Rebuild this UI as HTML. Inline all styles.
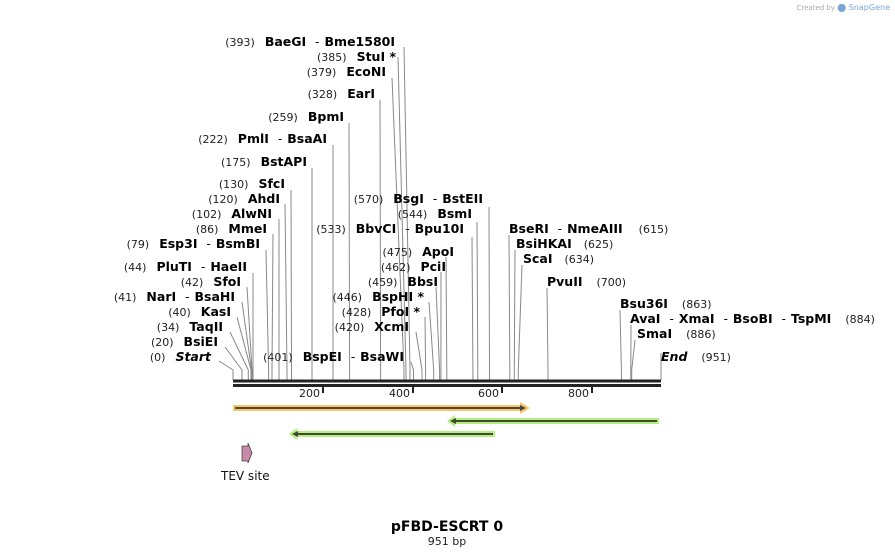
<!DOCTYPE html>
<html><head><meta charset="utf-8"><style>
html,body{margin:0;padding:0;background:#fff;}
svg{display:block;font-family:"DejaVu Sans","Liberation Sans",sans-serif;}
.n{font-size:11px;fill:#222;}
.b{font-size:12.5px;font-weight:bold;fill:#000;}
.d{font-size:12px;fill:#000;}
.l{stroke:#888;stroke-width:1;fill:none;}
</style></head><body>
<svg width="895" height="557" viewBox="0 0 895 557" xmlns="http://www.w3.org/2000/svg">
<text x="890" y="10" text-anchor="end" style="font-size:7px;fill:#aaa">Created by <tspan style="fill:#7aa6d6;font-size:8px">⬤ SnapGene</tspan></text>

<g class="l">
<path d="M404 47 L410 370 V380"/>
<path d="M398 57 L406 370 V380"/>
<path d="M392 78 L404 370 V380"/>
<path d="M380 100 L380.6 370 V380"/>
<path d="M349 123 L349.6 370 V380"/>
<path d="M333 145 L333 370 V380"/>
<path d="M312 168 L312 370 V380"/>
<path d="M291 190 L291.5 370 V380"/>
<path d="M285 204 L287 370 V380"/>
<path d="M279 219 L279 370 V380"/>
<path d="M273 234 L272 370 V380"/>
<path d="M266 250 L268.6 370 V380"/>
<path d="M253 273 L253 370 V380"/>
<path d="M247 287 L252 370 V380"/>
<path d="M242 302 L251.5 370 V380"/>
<path d="M237 317 L251 370 V380"/>
<path d="M230 332 L248.3 370 V380"/>
<path d="M225 347 L242 370 V380"/>
<path d="M219 361 L233 370 V380"/>
<path d="M411 362 L413.5 370 V380"/>
<path d="M489 207 L489.5 370 V380"/>
<path d="M477 222 L477.8 370 V380"/>
<path d="M472 237 L472.9 370 V380"/>
<path d="M446 257 L446.8 370 V380"/>
<path d="M441 272 L440.9 370 V380"/>
<path d="M436 287 L439.6 370 V380"/>
<path d="M429 302 L433.7 370 V380"/>
<path d="M425 317 L425.6 370 V380"/>
<path d="M416 332 L422 370 V380"/>
<path d="M509 235 L509.8 370 V380"/>
<path d="M515 250 L514.3 370 V380"/>
<path d="M522 265 L518.3 370 V380"/>
<path d="M547 288 L548 370 V380"/>
<path d="M620 310 L621.4 370 V380"/>
<path d="M631 325 L630.8 370 V380"/>
<path d="M635 340 L631.7 370 V380"/>
<path d="M661 353 L661 380"/>
</g>

<g text-anchor="end">
<text x="395" y="46"><tspan class="n">(393)</tspan><tspan class="b" dx="10">BaeGI</tspan><tspan class="d" dx="9">-</tspan><tspan class="b" dx="5">Bme1580I</tspan></text>
<text x="396" y="61"><tspan class="n">(385)</tspan><tspan class="b" dx="10">StuI *</tspan></text>
<text x="386" y="76"><tspan class="n">(379)</tspan><tspan class="b" dx="10">EcoNI</tspan></text>
<text x="375" y="98"><tspan class="n">(328)</tspan><tspan class="b" dx="10">EarI</tspan></text>
<text x="344" y="121"><tspan class="n">(259)</tspan><tspan class="b" dx="10">BpmI</tspan></text>
<text x="327" y="143"><tspan class="n">(222)</tspan><tspan class="b" dx="10">PmlI</tspan><tspan class="d" dx="9">-</tspan><tspan class="b" dx="5">BsaAI</tspan></text>
<text x="307" y="166"><tspan class="n">(175)</tspan><tspan class="b" dx="10">BstAPI</tspan></text>
<text x="285" y="188"><tspan class="n">(130)</tspan><tspan class="b" dx="10">SfcI</tspan></text>
<text x="280" y="203"><tspan class="n">(120)</tspan><tspan class="b" dx="10">AhdI</tspan></text>
<text x="272" y="218"><tspan class="n">(102)</tspan><tspan class="b" dx="10">AlwNI</tspan></text>
<text x="267" y="233"><tspan class="n">(86)</tspan><tspan class="b" dx="10">MmeI</tspan></text>
<text x="260" y="248"><tspan class="n">(79)</tspan><tspan class="b" dx="10">Esp3I</tspan><tspan class="d" dx="9">-</tspan><tspan class="b" dx="5">BsmBI</tspan></text>
<text x="247" y="271"><tspan class="n">(44)</tspan><tspan class="b" dx="10">PluTI</tspan><tspan class="d" dx="9">-</tspan><tspan class="b" dx="5">HaeII</tspan></text>
<text x="241" y="286"><tspan class="n">(42)</tspan><tspan class="b" dx="10">SfoI</tspan></text>
<text x="235" y="301"><tspan class="n">(41)</tspan><tspan class="b" dx="10">NarI</tspan><tspan class="d" dx="9">-</tspan><tspan class="b" dx="5">BsaHI</tspan></text>
<text x="231" y="316"><tspan class="n">(40)</tspan><tspan class="b" dx="10">KasI</tspan></text>
<text x="223" y="331"><tspan class="n">(34)</tspan><tspan class="b" dx="10">TaqII</tspan></text>
<text x="218" y="346"><tspan class="n">(20)</tspan><tspan class="b" dx="10">BsiEI</tspan></text>
<text x="211" y="361"><tspan class="n">(0)</tspan><tspan class="b" dx="10" font-style="italic">Start</tspan></text>
<text x="404" y="361"><tspan class="n">(401)</tspan><tspan class="b" dx="10">BspEI</tspan><tspan class="d" dx="9">-</tspan><tspan class="b" dx="5">BsaWI</tspan></text>
<text x="483" y="203"><tspan class="n">(570)</tspan><tspan class="b" dx="10">BsgI</tspan><tspan class="d" dx="9">-</tspan><tspan class="b" dx="5">BstEII</tspan></text>
<text x="472" y="218"><tspan class="n">(544)</tspan><tspan class="b" dx="10">BsmI</tspan></text>
<text x="464" y="233"><tspan class="n">(533)</tspan><tspan class="b" dx="10">BbvCI</tspan><tspan class="d" dx="9">-</tspan><tspan class="b" dx="5">Bpu10I</tspan></text>
<text x="454" y="256"><tspan class="n">(475)</tspan><tspan class="b" dx="10">ApoI</tspan></text>
<text x="446" y="271"><tspan class="n">(462)</tspan><tspan class="b" dx="10">PciI</tspan></text>
<text x="438" y="286"><tspan class="n">(459)</tspan><tspan class="b" dx="10">BbsI</tspan></text>
<text x="424" y="301"><tspan class="n">(446)</tspan><tspan class="b" dx="10">BspHI *</tspan></text>
<text x="420" y="316"><tspan class="n">(428)</tspan><tspan class="b" dx="10">PfoI *</tspan></text>
<text x="409" y="331"><tspan class="n">(420)</tspan><tspan class="b" dx="10">XcmI</tspan></text>
</g>

<g>
<text x="509" y="233"><tspan class="b">BseRI</tspan><tspan class="d" dx="9">-</tspan><tspan class="b" dx="5">NmeAIII</tspan><tspan class="n" dx="16">(615)</tspan></text>
<text x="516" y="248"><tspan class="b">BsiHKAI</tspan><tspan class="n" dx="12">(625)</tspan></text>
<text x="523" y="263"><tspan class="b">ScaI</tspan><tspan class="n" dx="12">(634)</tspan></text>
<text x="547" y="286"><tspan class="b">PvuII</tspan><tspan class="n" dx="14">(700)</tspan></text>
<text x="620" y="308"><tspan class="b">Bsu36I</tspan><tspan class="n" dx="14">(863)</tspan></text>
<text x="630" y="323"><tspan class="b">AvaI</tspan><tspan class="d" dx="9">-</tspan><tspan class="b" dx="5">XmaI</tspan><tspan class="d" dx="9">-</tspan><tspan class="b" dx="5">BsoBI</tspan><tspan class="d" dx="9">-</tspan><tspan class="b" dx="5">TspMI</tspan><tspan class="n" dx="14">(884)</tspan></text>
<text x="637" y="338"><tspan class="b">SmaI</tspan><tspan class="n" dx="14">(886)</tspan></text>
<text x="661" y="361"><tspan class="b" font-style="italic">End</tspan><tspan class="n" dx="14">(951)</tspan></text>
</g>

<rect x="233" y="379.5" width="428" height="3" fill="#222"/>
<rect x="233" y="384" width="428" height="3" fill="#222"/>
<g fill="#222">
<rect x="322" y="387" width="2" height="6"/>
<rect x="412" y="387" width="2" height="6"/>
<rect x="501" y="387" width="2" height="6"/>
<rect x="591" y="387" width="2" height="6"/>
</g>
<g class="n" text-anchor="end" style="font-size:11px">
<text x="320" y="397">200</text><text x="410" y="397">400</text><text x="499" y="397">600</text><text x="589" y="397">800</text>
</g>

<rect x="233" y="405" width="292" height="6" fill="#f9c46a"/>
<polygon points="520,402 530,408 520,414" fill="#f9c46a"/>
<line x1="235" y1="408" x2="523" y2="408" stroke="#4a4a3a" stroke-width="2"/>
<polygon points="520,405 526,408 520,411" fill="#4a4a3a"/>

<rect x="453" y="418" width="206" height="6" fill="#b7ef7e"/>
<polygon points="455,415 447,421 455,427" fill="#b7ef7e"/>
<line x1="452" y1="421" x2="657" y2="421" stroke="#3f4a35" stroke-width="2"/>
<polygon points="456,418 450,421 456,424" fill="#3f4a35"/>

<rect x="295" y="431" width="200" height="6" fill="#b7ef7e"/>
<polygon points="297,428 289,434 297,440" fill="#b7ef7e"/>
<line x1="294" y1="434" x2="493" y2="434" stroke="#3f4a35" stroke-width="2"/>
<polygon points="298,431 292,434 298,437" fill="#3f4a35"/>

<polygon points="242,446 248,446 248,443 252,453 248,463 248,461 242,461" fill="#c88aa8" stroke="#444" stroke-width="0.8"/>
<text x="221" y="480" style="font-size:12px;fill:#111">TEV site</text>

<text x="447" y="531" text-anchor="middle" style="font-size:14px;font-weight:bold">pFBD-ESCRT 0</text>
<text x="447" y="545" text-anchor="middle" style="font-size:11px;fill:#222">951 bp</text>
</svg>
</body></html>
